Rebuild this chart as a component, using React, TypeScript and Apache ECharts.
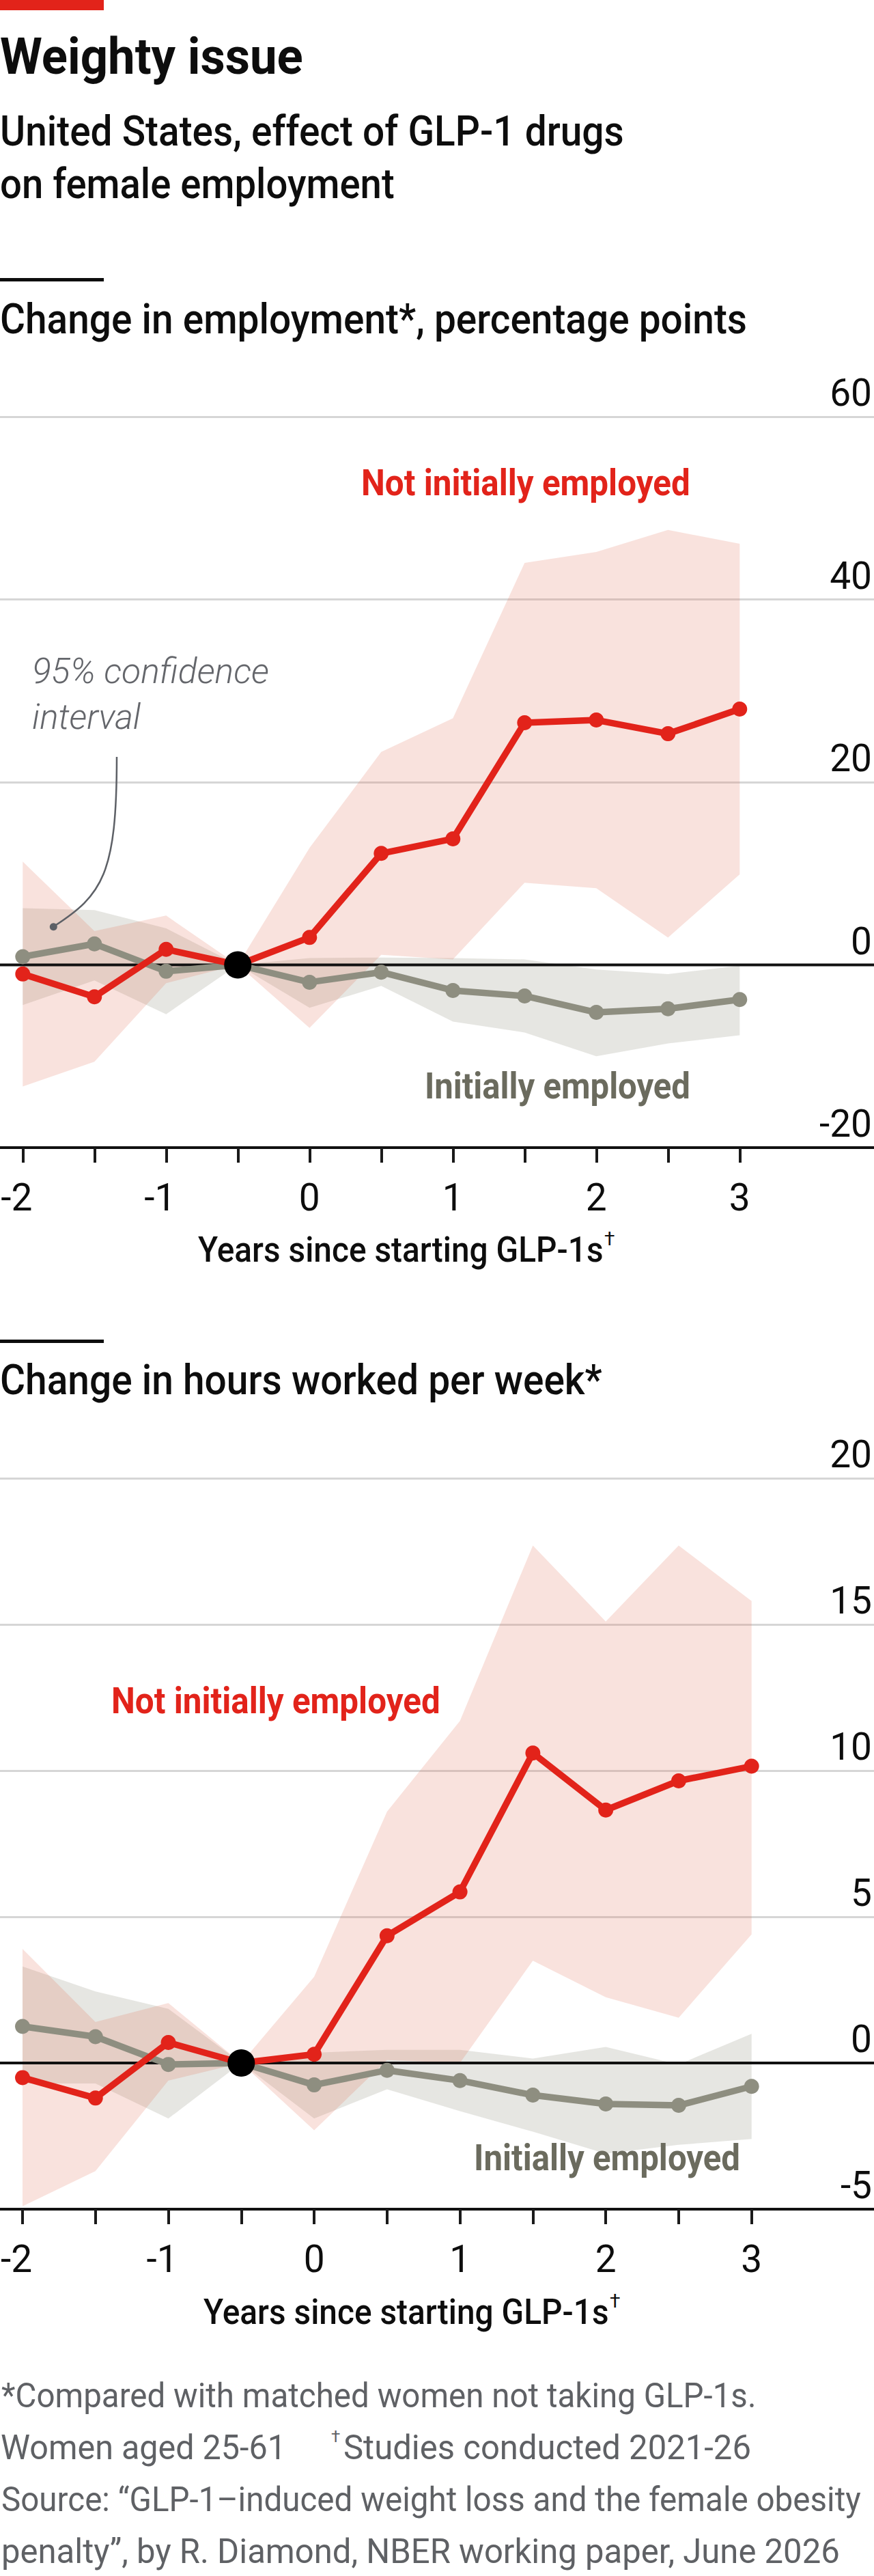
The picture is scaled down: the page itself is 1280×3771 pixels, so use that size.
import React, { useEffect, useRef } from 'react';
import * as echarts from 'echarts';

// ---------------- data ----------------
const YEARS = [-2, -1.5, -1, -0.5, 0, 0.5, 1, 1.5, 2, 2.5, 3];

// Change in employment, percentage points
const EMP_NOT = [-1.0, -3.5, 1.7, 0, 3.0, 12.2, 13.8, 26.5, 26.8, 25.3, 28.0];
const EMP_NOT_HI = [11.3, 3.7, 5.4, 0, 12.8, 23.3, 27.0, 44.0, 45.2, 47.6, 46.1];
const EMP_NOT_LO = [-13.3, -10.6, -2.0, 0, -6.9, 1.1, 0.6, 9.0, 8.4, 3.0, 9.9];
const EMP_IN = [0.9, 2.3, -0.7, 0, -1.9, -0.8, -2.8, -3.4, -5.2, -4.8, -3.8];
const EMP_IN_HI = [6.2, 6.0, 4.0, 0, 0.75, 0.8, 0.75, 0.6, -0.5, -1.0, -0.1];
const EMP_IN_LO = [-4.4, -1.7, -5.4, 0, -4.7, -2.3, -6.2, -7.4, -10.0, -8.6, -7.7];

// Change in hours worked per week
const HRS_NOT = [-0.5, -1.2, 0.7, 0, 0.3, 4.35, 5.85, 10.6, 8.65, 9.65, 10.15];
const HRS_NOT_HI = [3.9, 1.4, 2.05, 0, 2.95, 8.6, 11.7, 17.7, 15.1, 17.7, 15.8];
const HRS_NOT_LO = [-4.9, -3.7, -0.6, 0, -2.3, 0.1, 0.0, 3.5, 2.25, 1.55, 4.4];
const HRS_IN = [1.25, 0.9, -0.05, 0, -0.75, -0.25, -0.6, -1.1, -1.4, -1.45, -0.8];
const HRS_IN_HI = [3.3, 2.45, 1.85, 0, 0.35, 0.45, 0.45, 0.15, 0.55, -0.05, 1.0];
const HRS_IN_LO = [-0.7, -0.7, -1.9, 0, -1.9, -0.9, -1.65, -2.35, -3.1, -2.8, -2.6];

const REF_POINT = [-0.5, 0];

const EMP_Y_TICKS = [-20, 0, 20, 40, 60];
const HRS_Y_TICKS = [-5, 0, 5, 10, 15, 20];
const X_TICK_LABELS = [-2, -1, 0, 1, 2, 3];

// ---------------- style ----------------
const RED = '#e2231a';
const GREY_LINE = '#8e8e80';
const GREY_TEXT = '#6b6b5e';
const PINK_BAND = 'rgba(225,110,85,0.2)';
const GREY_BAND = 'rgba(120,120,100,0.185)';
const INK = '#0d0d0d';
const NOTE = '#5f6165';
const ANNOT = '#64666b';
const FONT = 'Roboto';
const CENTRAL = 0.342; // Roboto: distance from alphabetic baseline to central baseline, in em

let measureCtx: CanvasRenderingContext2D | null = null;
function measure(text: string, fs: number, weight: number | string, fontStyle: string) {
  if (!measureCtx) measureCtx = document.createElement('canvas').getContext('2d');
  measureCtx!.font = `${fontStyle} ${weight} ${fs}px ${FONT}`;
  return measureCtx!.measureText(text).width;
}

function txt(
  text: string, x: number, baseline: number, fs: number, weight: number | string, color: string,
  width?: number, align: string = 'left', fontStyle: string = 'normal'
) {
  const w = measure(text, fs, weight, fontStyle);
  return {
    type: 'text', x, y: baseline - CENTRAL * fs, scaleX: width ? width / w : 1, z: 100, silent: true,
    style: {
      text, fontSize: fs, fontWeight: weight, fontStyle, fontFamily: FONT, fill: color,
      align, textAlign: align, verticalAlign: 'middle', textVerticalAlign: 'middle',
    },
  };
}

function sup(text: string, x: number, centerY: number, fs: number, color: string) {
  return {
    type: 'text', x, y: centerY, z: 100, silent: true,
    style: { text, fontSize: fs, fontWeight: 400, fontFamily: FONT, fill: color, align: 'left', textAlign: 'left', verticalAlign: 'middle', textVerticalAlign: 'middle' },
  };
}

function rect(x: number, y: number, w: number, h: number, color: string) {
  return { type: 'rect', shape: { x, y, width: w, height: h }, style: { fill: color }, z: 100, silent: true };
}

// ---------------- series builders ----------------
function zeroLine(idx: number) {
  return {
    type: 'line', xAxisIndex: idx, yAxisIndex: idx, data: [[0, 0], [1, 0]], symbol: 'none', silent: true,
    lineStyle: { color: '#111111', width: 4 },
  };
}

function band(idx: number, lo: number[], hi: number[], color: string) {
  return {
    type: 'custom', xAxisIndex: idx, yAxisIndex: idx, silent: true, clip: false,
    data: YEARS.map((x, i) => [x, lo[i], hi[i]]),
    encode: { x: 0, y: [1, 2] },
    renderItem: (params: any, api: any) => {
      if (params.dataIndex !== 0) return null;
      const top = YEARS.map((x, i) => api.coord([x, hi[i]]));
      const bottom = YEARS.map((x, i) => api.coord([x, lo[i]])).reverse();
      return { type: 'polygon', shape: { points: top.concat(bottom) }, style: { fill: color } };
    },
  };
}

function line(idx: number, ys: number[], color: string) {
  return {
    type: 'line', xAxisIndex: idx, yAxisIndex: idx, silent: true,
    data: YEARS.map((x, i) => [x, ys[i]]),
    symbol: 'circle', symbolSize: 22, showSymbol: true, showAllSymbol: true,
    lineStyle: { color, width: 9.5 }, itemStyle: { color, opacity: 1 },
  };
}

function refDot(idx: number) {
  return {
    type: 'scatter', xAxisIndex: idx, yAxisIndex: idx, silent: true, z: 10,
    data: [REF_POINT], symbol: 'circle', symbolSize: 40,
    itemStyle: { color: '#000000', opacity: 1, borderWidth: 0 },
  };
}

// ---------------- axes builders ----------------
function fullX(idx: number) {
  return {
    gridIndex: idx, type: 'value', min: 0, max: 1,
    axisLine: { show: true, onZero: false, lineStyle: { color: '#111111', width: 4 } },
    axisTick: { show: false }, axisLabel: { show: false }, splitLine: { show: false },
  };
}
function fullY(idx: number, ticks: number[]) {
  return {
    gridIndex: idx, type: 'value', position: 'right',
    min: ticks[0], max: ticks[ticks.length - 1], interval: ticks[1] - ticks[0],
    axisLine: { show: false, onZero: false }, axisTick: { show: false },
    axisLabel: {
      show: true, inside: true, margin: 3, fontSize: 55, fontFamily: FONT, color: INK,
      align: 'right', verticalAlign: 'bottom', lineHeight: 70,
    },
    splitLine: { show: true, lineStyle: { color: '#d6d6d6', width: 3 } },
  };
}
function dataX(idx: number) {
  return {
    gridIndex: idx, type: 'value', min: -2, max: 3, interval: 0.5,
    axisLine: { show: false, onZero: false },
    axisTick: { show: true, inside: false, length: 22, lineStyle: { color: '#1a1a1a', width: 4 } },
    axisLabel: {
      show: true, margin: 45, fontSize: 55, fontFamily: FONT, color: INK,
      formatter: (v: number) => {
        if (!X_TICK_LABELS.some((t) => Math.abs(t - v) < 1e-6)) return '';
        return v < 0 ? `{n|${v}}` : String(v);
      },
      rich: { n: { padding: [0, 18, 0, 0], fontSize: 55, fontFamily: FONT, color: INK } },
    },
    splitLine: { show: false },
  };
}
function dataY(idx: number, ticks: number[]) {
  return {
    gridIndex: idx, type: 'value', show: false,
    min: ticks[0], max: ticks[ticks.length - 1], interval: ticks[1] - ticks[0],
    axisLine: { onZero: false }, splitLine: { show: false },
  };
}

function buildOption() {
  const gridBase = { containLabel: false, outerBoundsMode: 'none' };
  const graphics: any[] = [
    rect(0, 0, 152, 15, RED),
    txt('Weighty issue', 0, 108, 74.5, 700, INK, 444),
    txt('United States, effect of GLP-1 drugs', 0, 213, 60.5, 500, INK, 914),
    txt('on female employment', 0, 290, 60.5, 500, INK, 578),
    rect(0, 407, 152, 5, INK),
    txt('Change in employment*, percentage points', 0, 488, 62, 500, INK, 1094),
    txt('Not initially employed', 529, 725, 53.5, 700, RED, 482),
    txt('95% confidence', 47, 1000, 51.6, 300, ANNOT, 347, 'left', 'italic'),
    txt('interval', 47, 1067, 51.6, 300, ANNOT, 159, 'left', 'italic'),
    {
      type: 'bezierCurve', z: 100, silent: true,
      shape: { x1: 171, y1: 1108, cpx1: 171, cpy1: 1280, cpx2: 150, cpy2: 1310, x2: 79, y2: 1356 },
      style: { stroke: '#5d6066', lineWidth: 2.5, fill: 'none' },
    },
    { type: 'circle', z: 100, silent: true, shape: { cx: 78.3, cy: 1356.7, r: 5.5 }, style: { fill: '#5d6066' } },
    txt('Initially employed', 1011, 1608, 54, 700, GREY_TEXT, 389, 'right'),
    txt('Years since starting GLP-1s', 290, 1847, 52, 500, INK, 594),
    sup('\u2020', 290 + 594 + 1, 1813.3, 28, INK),

    rect(0, 1961, 152, 5, INK),
    txt('Change in hours worked per week*', 0, 2041, 62, 500, INK, 882),
    txt('Not initially employed', 163, 2508, 53.5, 700, RED, 482),
    txt('Initially employed', 1084, 3177.5, 54, 700, GREY_TEXT, 390, 'right'),
    txt('Years since starting GLP-1s', 298, 3401.7, 52, 500, INK, 594),
    sup('\u2020', 298 + 594 + 1, 3368, 28, INK),

    txt('*Compared with matched women not taking GLP-1s.', 2, 3524, 50.5, 400, NOTE, 1106),
    txt('Women aged 25-61', 1, 3600, 50.5, 400, NOTE, 418),
    sup('\u2020', 485, 3566.6, 24, NOTE),
    txt('Studies conducted 2021-26', 503, 3600, 50.5, 400, NOTE, 597),
    txt('Source: \u201cGLP-1\u2013induced weight loss and the female obesity', 2, 3676, 50.5, 400, NOTE, 1259),
    txt('penalty\u201d, by R. Diamond, NBER working paper, June 2026', 2, 3751.7, 50.5, 400, NOTE, 1228),
  ];

  return {
    animation: false,
    backgroundColor: '#ffffff',
    grid: [
      { ...gridBase, left: 0, right: 0, top: 610, height: 1070 },
      { ...gridBase, left: 33.3, right: 196.7, top: 610, height: 1070 },
      { ...gridBase, left: 0, right: 0, top: 2164, height: 1070 },
      { ...gridBase, left: 33, right: 179.3, top: 2164, height: 1070 },
    ],
    xAxis: [fullX(0), dataX(1), fullX(2), dataX(3)],
    yAxis: [fullY(0, EMP_Y_TICKS), dataY(1, EMP_Y_TICKS), fullY(2, HRS_Y_TICKS), dataY(3, HRS_Y_TICKS)],
    series: [
      zeroLine(0),
      zeroLine(2),
      band(1, EMP_IN_LO, EMP_IN_HI, GREY_BAND),
      line(1, EMP_IN, GREY_LINE),
      band(1, EMP_NOT_LO, EMP_NOT_HI, PINK_BAND),
      line(1, EMP_NOT, RED),
      refDot(1),
      band(3, HRS_IN_LO, HRS_IN_HI, GREY_BAND),
      line(3, HRS_IN, GREY_LINE),
      band(3, HRS_NOT_LO, HRS_NOT_HI, PINK_BAND),
      line(3, HRS_NOT, RED),
      refDot(3),
    ],
    graphic: { elements: graphics },
  };
}

export default function App() {
  const ref = useRef<HTMLDivElement>(null);
  useEffect(() => {
    document.body.style.margin = '0';
    document.body.style.background = '#ffffff';
    if (!ref.current) return;
    const chart = echarts.init(ref.current, null, { renderer: 'svg', width: 1280, height: 3771 });
    chart.setOption(buildOption() as any);
    return () => chart.dispose();
  }, []);
  return <div ref={ref} style={{ width: 1280, height: 3771 }} />;
}
